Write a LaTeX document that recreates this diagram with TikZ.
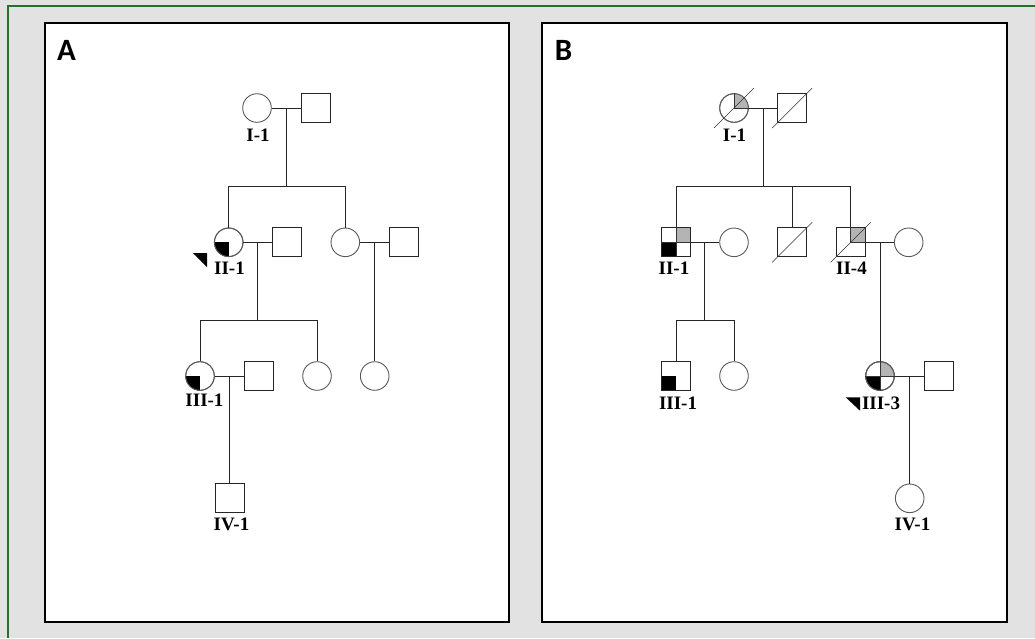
\documentclass[tikz,border=0pt]{standalone}
\usepackage{fontspec}
\setmainfont{Liberation Serif}
\newfontfamily\panelfont{Carlito}
\definecolor{bggray}{RGB}{226,226,226}
\definecolor{framegreen}{RGB}{40,110,45}
\definecolor{carrier}{RGB}{180,180,180}
\newcommand\qfc[4]{\begin{scope}\clip (#1.center) circle[radius=14.3pt];\fill[#4] (#1.center) rectangle ([shift={(#2 15pt,#3 15pt)}]#1.center);\end{scope}\draw[femline] (#1.center) circle[radius=14.3pt];}
\newcommand\qfs[4]{\begin{scope}\clip ([shift={(-14.5pt,-14.5pt)}]#1.center) rectangle ([shift={(14.5pt,14.5pt)}]#1.center);\fill[#4] (#1.center) rectangle ([shift={(#2 15pt,#3 15pt)}]#1.center);\end{scope}\draw[malline] ([shift={(-14.5pt,-14.5pt)}]#1.center) rectangle ([shift={(14.5pt,14.5pt)}]#1.center);}
\newcommand\slashx[1]{\draw[dec] ([shift={(-20pt,-20pt)}]#1.center) -- ([shift={(20pt,20pt)}]#1.center);}
\begin{document}
\begin{tikzpicture}[x=1pt,y=-1pt,
  femline/.style={draw=black!65,line width=0.9pt},
  malline/.style={draw=black!85,line width=0.9pt},
  fem/.style={circle,femline,minimum size=28.6pt,inner sep=0pt},
  mal/.style={rectangle,malline,minimum size=29pt,inner sep=0pt},
  lbl/.style={font=\bfseries\fontsize{19}{19}\selectfont,inner sep=0pt},
  ln/.style={draw=black!85,line width=0.9pt},
  dec/.style={draw=black!80,line width=0.6pt},
  panel/.style={draw=black,line width=1.8pt,fill=white},
  plabel/.style={font=\panelfont\bfseries\fontsize{31}{31}\selectfont,inner sep=0pt},
]
\useasboundingbox (0,0) rectangle (1035,638);
\fill[bggray] (0,0) rectangle (1035,638);
\draw[framegreen,line width=2pt] (8,638) -- (8,6) -- (1035,6);
\draw[panel] (45.3,23.3) rectangle (509,621.7);
\draw[panel] (542.3,23.3) rectangle (1006.7,621.7);
\node[plabel] (pA) at (66.5,50) {A};
\node[plabel] (pB) at (563.5,50) {B};

% ---------------- Panel A ----------------
\node[fem] (a11) at (257,108) {};
\node[mal] (a12) at (315.7,108) {};
\node[lbl] (la11) at (258,135) {I-1};
\node[fem] (a21) at (228.7,242.3) {};
\node[mal] (a22) at (287.2,242.3) {};
\node[fem] (a23) at (345.3,242.3) {};
\node[mal] (a24) at (403.8,242.3) {};
\node[lbl] (la21) at (229.5,268) {II-1};
\node[fem] (a31) at (200,376) {};
\node[mal] (a32) at (258.5,376) {};
\node[fem] (a33) at (317,376) {};
\node[fem] (a34) at (374.7,376) {};
\node[lbl] (la31) at (204.5,400) {III-1};
\node[mal] (a41) at (229.8,498.3) {};
\node[lbl] (la41) at (231.5,524.5) {IV-1};

\qfc{a21}{-}{-}{black}
\qfc{a31}{-}{-}{black}

\draw[ln] (a11) -- (a12);
\coordinate (am1) at (286.3,108);
\coordinate (as1) at (286.3,186);
\draw[ln] (am1) -- (as1);
\draw[ln] (a21 |- as1) -- (a23 |- as1);
\draw[ln] (a21 |- as1) -- (a21);
\draw[ln] (a23 |- as1) -- (a23);

\draw[ln] (a21) -- (a22);
\coordinate (am2) at (257.7,242.3);
\coordinate (as2) at (257.7,320);
\draw[ln] (am2) -- (as2);
\draw[ln] (a31 |- as2) -- (a33 |- as2);
\draw[ln] (a31 |- as2) -- (a31);
\draw[ln] (a33 |- as2) -- (a33);

\draw[ln] (a23) -- (a24);
\coordinate (am3) at (374.7,242.3);
\draw[ln] (am3) -- (a34);

\draw[ln] (a31) -- (a32);
\coordinate (am4) at (229.8,376);
\draw[ln] (am4) -- (a41);

\fill (193,253) -- (207,253) -- (207,267) -- cycle;

% ---------------- Panel B ----------------
\node[fem] (b11) at (734,108) {};
\node[mal] (b12) at (792.2,108) {};
\node[lbl] (lb11) at (734.5,135) {I-1};
\node[mal] (b21) at (676,242.3) {};
\node[fem] (b22) at (734,242.3) {};
\node[mal] (b23) at (792.2,242.3) {};
\node[mal] (b24) at (850.7,242.3) {};
\node[fem] (b25) at (908.7,242.3) {};
\node[lbl] (lb21) at (674,268) {II-1};
\node[lbl] (lb24) at (851.5,268) {II-4};
\node[mal] (b31) at (676,376) {};
\node[fem] (b32) at (734,376) {};
\node[fem] (b33) at (880,376) {};
\node[mal] (b34) at (938.8,376) {};
\node[lbl] (lb31) at (678,403) {III-1};
\node[lbl] (lb33) at (881,403) {III-3};
\node[fem] (b41) at (909.7,498.3) {};
\node[lbl] (lb41) at (912.5,524) {IV-1};

\qfc{b11}{+}{+}{carrier}
\draw[dec] (b11.north) -- (b11.center) -- (b11.east);
\qfs{b21}{+}{+}{carrier}
\qfs{b21}{-}{-}{black}
\draw[dec] (b21.north) -- (b21.south) (b21.west) -- (b21.east);
\qfs{b24}{+}{+}{carrier}
\draw[dec] (b24.north) -- (b24.center) -- (b24.east);
\qfs{b31}{-}{-}{black}
\qfc{b33}{+}{+}{carrier}
\qfc{b33}{-}{-}{black}
\draw[dec] (b33.north) -- (b33.south) (b33.west) -- (b33.east);

\slashx{b11}
\slashx{b12}
\slashx{b23}
\slashx{b24}

\draw[ln] (b11) -- (b12);
\coordinate (bm1) at (763.3,108);
\coordinate (bs1) at (763.3,186);
\draw[ln] (bm1) -- (bs1);
\draw[ln] (b21 |- bs1) -- (b24 |- bs1);
\draw[ln] (b21 |- bs1) -- (b21);
\draw[ln] (b23 |- bs1) -- (b23);
\draw[ln] (b24 |- bs1) -- (b24);

\draw[ln] (b21) -- (b22);
\coordinate (bm2) at (704.3,242.3);
\coordinate (bs2) at (704.3,320);
\draw[ln] (bm2) -- (bs2);
\draw[ln] (b31 |- bs2) -- (b32 |- bs2);
\draw[ln] (b31 |- bs2) -- (b31);
\draw[ln] (b32 |- bs2) -- (b32);

\draw[ln] (b24) -- (b25);
\coordinate (bm3) at (880,242.3);
\draw[ln] (bm3) -- (b33);

\draw[ln] (b33) -- (b34);
\coordinate (bm4) at (909.7,376);
\draw[ln] (bm4) -- (b41);

\fill (845.7,397.3) -- (860,397.3) -- (860,410.7) -- cycle;
\end{tikzpicture}
\end{document}
